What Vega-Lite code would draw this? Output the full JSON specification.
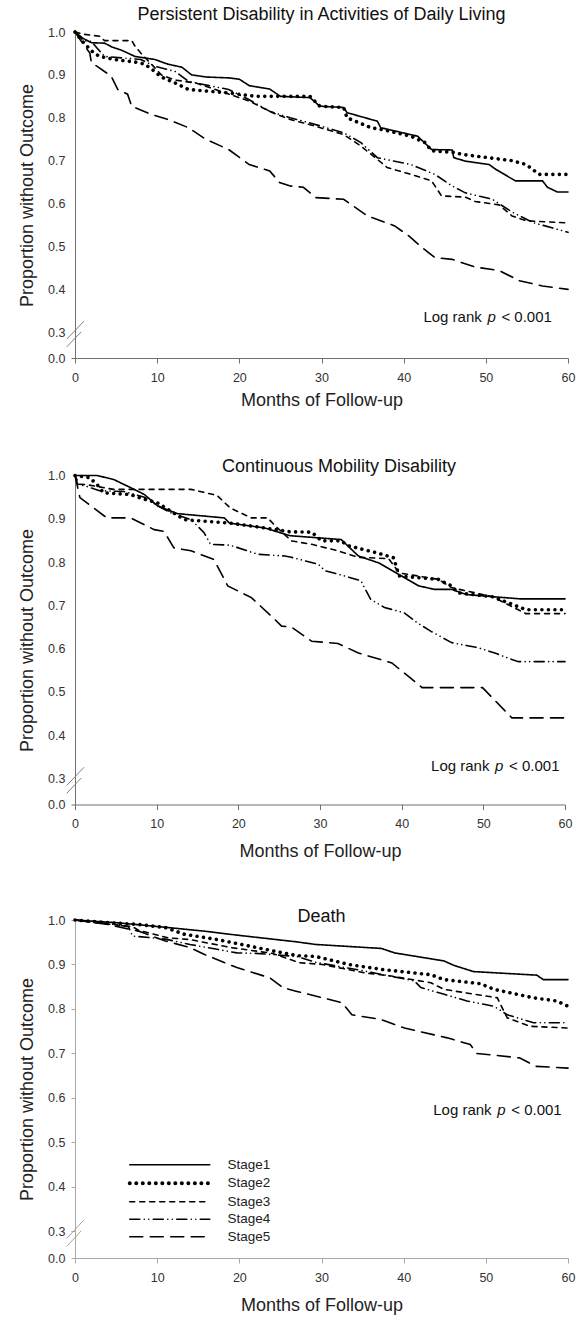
{
"$schema": "https://vega.github.io/schema/vega-lite/v6.json",
"padding": {"left": 18, "top": 5, "right": 0, "bottom": 0},
"background": "white",
"spacing": 47.5,
"config": {
 "view": {"stroke": null},
 "font": "Liberation Sans",
 "axis": {"labelFont": "Liberation Sans", "titleFont": "Liberation Sans", "labelFontSize": 12.5, "titleFontSize": 18, "titleFontWeight": "normal", "labelColor": "#333", "titleColor": "#222", "domainColor": "#808080", "tickColor": "#808080", "grid": false, "labelFlush": false, "labelOverlap": false}
},
"resolve": {"scale": {"x": "independent", "y": "independent", "strokeDash": "independent"}, "legend": {"strokeDash": "independent"}},
"datasets": {"km": [
{"p":1,"s":"Stage1","m":0,"v":1},{"p":1,"s":"Stage1","m":1,"v":0.985},{"p":1,"s":"Stage1","m":2,"v":0.975},{"p":1,"s":"Stage1","m":3.6,"v":0.974},{"p":1,"s":"Stage1","m":4.5,"v":0.965},{"p":1,"s":"Stage1","m":5.6,"v":0.958},{"p":1,"s":"Stage1","m":7.3,"v":0.943},{"p":1,"s":"Stage1","m":9.7,"v":0.936},{"p":1,"s":"Stage1","m":11.3,"v":0.925},{"p":1,"s":"Stage1","m":13,"v":0.918},{"p":1,"s":"Stage1","m":14.2,"v":0.9},{"p":1,"s":"Stage1","m":16,"v":0.895},{"p":1,"s":"Stage1","m":18.7,"v":0.893},{"p":1,"s":"Stage1","m":20,"v":0.89},{"p":1,"s":"Stage1","m":21.2,"v":0.875},{"p":1,"s":"Stage1","m":23.7,"v":0.867},{"p":1,"s":"Stage1","m":25,"v":0.85},{"p":1,"s":"Stage1","m":28.6,"v":0.847},{"p":1,"s":"Stage1","m":29.8,"v":0.827},{"p":1,"s":"Stage1","m":32.7,"v":0.824},{"p":1,"s":"Stage1","m":33.1,"v":0.812},{"p":1,"s":"Stage1","m":36.8,"v":0.792},{"p":1,"s":"Stage1","m":37.2,"v":0.777},{"p":1,"s":"Stage1","m":41.7,"v":0.757},{"p":1,"s":"Stage1","m":43.4,"v":0.726},{"p":1,"s":"Stage1","m":45.9,"v":0.725},{"p":1,"s":"Stage1","m":46.1,"v":0.707},{"p":1,"s":"Stage1","m":47.5,"v":0.699},{"p":1,"s":"Stage1","m":50.4,"v":0.691},{"p":1,"s":"Stage1","m":51.2,"v":0.68},{"p":1,"s":"Stage1","m":53.6,"v":0.653},{"p":1,"s":"Stage1","m":56.9,"v":0.653},{"p":1,"s":"Stage1","m":57.5,"v":0.638},{"p":1,"s":"Stage1","m":58.7,"v":0.627},{"p":1,"s":"Stage1","m":60,"v":0.627},
{"p":1,"s":"Stage2","m":0,"v":1},{"p":1,"s":"Stage2","m":1.1,"v":0.974},{"p":1,"s":"Stage2","m":2.3,"v":0.951},{"p":1,"s":"Stage2","m":3,"v":0.943},{"p":1,"s":"Stage2","m":4.8,"v":0.936},{"p":1,"s":"Stage2","m":7.3,"v":0.93},{"p":1,"s":"Stage2","m":8.5,"v":0.925},{"p":1,"s":"Stage2","m":9.7,"v":0.908},{"p":1,"s":"Stage2","m":10.5,"v":0.895},{"p":1,"s":"Stage2","m":12.2,"v":0.881},{"p":1,"s":"Stage2","m":13.8,"v":0.866},{"p":1,"s":"Stage2","m":18.7,"v":0.858},{"p":1,"s":"Stage2","m":22,"v":0.85},{"p":1,"s":"Stage2","m":28.6,"v":0.85},{"p":1,"s":"Stage2","m":29.8,"v":0.827},{"p":1,"s":"Stage2","m":32.7,"v":0.824},{"p":1,"s":"Stage2","m":33.1,"v":0.8},{"p":1,"s":"Stage2","m":36,"v":0.777},{"p":1,"s":"Stage2","m":38,"v":0.77},{"p":1,"s":"Stage2","m":40.9,"v":0.757},{"p":1,"s":"Stage2","m":42.6,"v":0.742},{"p":1,"s":"Stage2","m":43.4,"v":0.723},{"p":1,"s":"Stage2","m":46.3,"v":0.719},{"p":1,"s":"Stage2","m":47,"v":0.715},{"p":1,"s":"Stage2","m":53.2,"v":0.7},{"p":1,"s":"Stage2","m":54.9,"v":0.691},{"p":1,"s":"Stage2","m":56.5,"v":0.668},{"p":1,"s":"Stage2","m":60,"v":0.668},
{"p":1,"s":"Stage3","m":0,"v":1},{"p":1,"s":"Stage3","m":1,"v":0.995},{"p":1,"s":"Stage3","m":3,"v":0.99},{"p":1,"s":"Stage3","m":3.6,"v":0.98},{"p":1,"s":"Stage3","m":6.9,"v":0.98},{"p":1,"s":"Stage3","m":7.3,"v":0.967},{"p":1,"s":"Stage3","m":8,"v":0.951},{"p":1,"s":"Stage3","m":9.3,"v":0.925},{"p":1,"s":"Stage3","m":10.5,"v":0.9},{"p":1,"s":"Stage3","m":12.2,"v":0.888},{"p":1,"s":"Stage3","m":14.7,"v":0.881},{"p":1,"s":"Stage3","m":17.1,"v":0.866},{"p":1,"s":"Stage3","m":21.2,"v":0.839},{"p":1,"s":"Stage3","m":23.7,"v":0.815},{"p":1,"s":"Stage3","m":24.5,"v":0.808},{"p":1,"s":"Stage3","m":26.2,"v":0.796},{"p":1,"s":"Stage3","m":28.6,"v":0.784},{"p":1,"s":"Stage3","m":32.7,"v":0.761},{"p":1,"s":"Stage3","m":34.8,"v":0.734},{"p":1,"s":"Stage3","m":36.8,"v":0.703},{"p":1,"s":"Stage3","m":38,"v":0.684},{"p":1,"s":"Stage3","m":40.9,"v":0.668},{"p":1,"s":"Stage3","m":43.4,"v":0.653},{"p":1,"s":"Stage3","m":44.6,"v":0.618},{"p":1,"s":"Stage3","m":47.5,"v":0.615},{"p":1,"s":"Stage3","m":48.7,"v":0.605},{"p":1,"s":"Stage3","m":51.6,"v":0.597},{"p":1,"s":"Stage3","m":53.2,"v":0.571},{"p":1,"s":"Stage3","m":54.9,"v":0.56},{"p":1,"s":"Stage3","m":60,"v":0.555},
{"p":1,"s":"Stage4","m":0,"v":1},{"p":1,"s":"Stage4","m":1,"v":0.98},{"p":1,"s":"Stage4","m":2,"v":0.978},{"p":1,"s":"Stage4","m":2.8,"v":0.96},{"p":1,"s":"Stage4","m":3.6,"v":0.943},{"p":1,"s":"Stage4","m":8,"v":0.936},{"p":1,"s":"Stage4","m":9.7,"v":0.92},{"p":1,"s":"Stage4","m":12.2,"v":0.908},{"p":1,"s":"Stage4","m":13.8,"v":0.885},{"p":1,"s":"Stage4","m":16.3,"v":0.875},{"p":1,"s":"Stage4","m":18.7,"v":0.866},{"p":1,"s":"Stage4","m":21.2,"v":0.842},{"p":1,"s":"Stage4","m":23.7,"v":0.815},{"p":1,"s":"Stage4","m":26.2,"v":0.8},{"p":1,"s":"Stage4","m":28.6,"v":0.788},{"p":1,"s":"Stage4","m":32.7,"v":0.765},{"p":1,"s":"Stage4","m":34.8,"v":0.742},{"p":1,"s":"Stage4","m":36.8,"v":0.707},{"p":1,"s":"Stage4","m":40.9,"v":0.691},{"p":1,"s":"Stage4","m":43.8,"v":0.668},{"p":1,"s":"Stage4","m":45.9,"v":0.641},{"p":1,"s":"Stage4","m":47.5,"v":0.625},{"p":1,"s":"Stage4","m":50.8,"v":0.61},{"p":1,"s":"Stage4","m":53.2,"v":0.58},{"p":1,"s":"Stage4","m":55.7,"v":0.556},{"p":1,"s":"Stage4","m":60,"v":0.533},
{"p":1,"s":"Stage5","m":0,"v":1},{"p":1,"s":"Stage5","m":0.7,"v":0.98},{"p":1,"s":"Stage5","m":1.8,"v":0.951},{"p":1,"s":"Stage5","m":2,"v":0.928},{"p":1,"s":"Stage5","m":2.7,"v":0.92},{"p":1,"s":"Stage5","m":4.4,"v":0.897},{"p":1,"s":"Stage5","m":5.2,"v":0.866},{"p":1,"s":"Stage5","m":6.4,"v":0.855},{"p":1,"s":"Stage5","m":6.9,"v":0.827},{"p":1,"s":"Stage5","m":9.3,"v":0.808},{"p":1,"s":"Stage5","m":11.3,"v":0.796},{"p":1,"s":"Stage5","m":13.8,"v":0.777},{"p":1,"s":"Stage5","m":15.9,"v":0.75},{"p":1,"s":"Stage5","m":18.7,"v":0.726},{"p":1,"s":"Stage5","m":21.2,"v":0.691},{"p":1,"s":"Stage5","m":23.7,"v":0.676},{"p":1,"s":"Stage5","m":24.9,"v":0.649},{"p":1,"s":"Stage5","m":26.2,"v":0.641},{"p":1,"s":"Stage5","m":27.8,"v":0.638},{"p":1,"s":"Stage5","m":29.3,"v":0.614},{"p":1,"s":"Stage5","m":32.7,"v":0.61},{"p":1,"s":"Stage5","m":35.6,"v":0.571},{"p":1,"s":"Stage5","m":38.9,"v":0.548},{"p":1,"s":"Stage5","m":40.6,"v":0.525},{"p":1,"s":"Stage5","m":42.2,"v":0.498},{"p":1,"s":"Stage5","m":43.8,"v":0.474},{"p":1,"s":"Stage5","m":45.9,"v":0.47},{"p":1,"s":"Stage5","m":48.7,"v":0.452},{"p":1,"s":"Stage5","m":51.6,"v":0.444},{"p":1,"s":"Stage5","m":54.1,"v":0.42},{"p":1,"s":"Stage5","m":56.9,"v":0.408},{"p":1,"s":"Stage5","m":60,"v":0.4},
{"p":2,"s":"Stage1","m":0,"v":1},{"p":2,"s":"Stage1","m":2.7,"v":1},{"p":2,"s":"Stage1","m":4.7,"v":0.991},{"p":2,"s":"Stage1","m":6.8,"v":0.972},{"p":2,"s":"Stage1","m":8.5,"v":0.956},{"p":2,"s":"Stage1","m":10.1,"v":0.93},{"p":2,"s":"Stage1","m":12.5,"v":0.912},{"p":2,"s":"Stage1","m":18.3,"v":0.902},{"p":2,"s":"Stage1","m":18.9,"v":0.89},{"p":2,"s":"Stage1","m":23.2,"v":0.879},{"p":2,"s":"Stage1","m":26.3,"v":0.861},{"p":2,"s":"Stage1","m":32.6,"v":0.852},{"p":2,"s":"Stage1","m":34.7,"v":0.814},{"p":2,"s":"Stage1","m":37.2,"v":0.798},{"p":2,"s":"Stage1","m":39.7,"v":0.771},{"p":2,"s":"Stage1","m":42.1,"v":0.745},{"p":2,"s":"Stage1","m":44,"v":0.737},{"p":2,"s":"Stage1","m":46.1,"v":0.737},{"p":2,"s":"Stage1","m":47.9,"v":0.725},{"p":2,"s":"Stage1","m":54.5,"v":0.715},{"p":2,"s":"Stage1","m":60,"v":0.715},
{"p":2,"s":"Stage2","m":0,"v":1},{"p":2,"s":"Stage2","m":1.8,"v":0.995},{"p":2,"s":"Stage2","m":2.7,"v":0.979},{"p":2,"s":"Stage2","m":3.5,"v":0.96},{"p":2,"s":"Stage2","m":6.8,"v":0.956},{"p":2,"s":"Stage2","m":8,"v":0.948},{"p":2,"s":"Stage2","m":10.1,"v":0.937},{"p":2,"s":"Stage2","m":11.7,"v":0.918},{"p":2,"s":"Stage2","m":13.4,"v":0.898},{"p":2,"s":"Stage2","m":19,"v":0.89},{"p":2,"s":"Stage2","m":23.2,"v":0.879},{"p":2,"s":"Stage2","m":26.3,"v":0.87},{"p":2,"s":"Stage2","m":29,"v":0.869},{"p":2,"s":"Stage2","m":30.2,"v":0.849},{"p":2,"s":"Stage2","m":32.6,"v":0.849},{"p":2,"s":"Stage2","m":33.4,"v":0.838},{"p":2,"s":"Stage2","m":37.2,"v":0.82},{"p":2,"s":"Stage2","m":39,"v":0.81},{"p":2,"s":"Stage2","m":39.7,"v":0.768},{"p":2,"s":"Stage2","m":44.5,"v":0.76},{"p":2,"s":"Stage2","m":46.1,"v":0.745},{"p":2,"s":"Stage2","m":46.9,"v":0.729},{"p":2,"s":"Stage2","m":51.1,"v":0.72},{"p":2,"s":"Stage2","m":53.6,"v":0.702},{"p":2,"s":"Stage2","m":55.2,"v":0.69},{"p":2,"s":"Stage2","m":60,"v":0.69},
{"p":2,"s":"Stage3","m":0,"v":1},{"p":2,"s":"Stage3","m":0.5,"v":0.98},{"p":2,"s":"Stage3","m":1.4,"v":0.979},{"p":2,"s":"Stage3","m":4.7,"v":0.968},{"p":2,"s":"Stage3","m":14.2,"v":0.968},{"p":2,"s":"Stage3","m":17.4,"v":0.954},{"p":2,"s":"Stage3","m":19,"v":0.925},{"p":2,"s":"Stage3","m":21.6,"v":0.902},{"p":2,"s":"Stage3","m":23.6,"v":0.902},{"p":2,"s":"Stage3","m":24.5,"v":0.884},{"p":2,"s":"Stage3","m":26.5,"v":0.849},{"p":2,"s":"Stage3","m":29,"v":0.841},{"p":2,"s":"Stage3","m":32.2,"v":0.826},{"p":2,"s":"Stage3","m":34.7,"v":0.811},{"p":2,"s":"Stage3","m":38.4,"v":0.808},{"p":2,"s":"Stage3","m":39.7,"v":0.775},{"p":2,"s":"Stage3","m":44.5,"v":0.76},{"p":2,"s":"Stage3","m":46.1,"v":0.741},{"p":2,"s":"Stage3","m":51.1,"v":0.72},{"p":2,"s":"Stage3","m":55.2,"v":0.681},{"p":2,"s":"Stage3","m":60,"v":0.681},
{"p":2,"s":"Stage4","m":0,"v":1},{"p":2,"s":"Stage4","m":0.3,"v":0.98},{"p":2,"s":"Stage4","m":1.4,"v":0.975},{"p":2,"s":"Stage4","m":3,"v":0.965},{"p":2,"s":"Stage4","m":6,"v":0.963},{"p":2,"s":"Stage4","m":8.5,"v":0.95},{"p":2,"s":"Stage4","m":10.1,"v":0.93},{"p":2,"s":"Stage4","m":11.7,"v":0.914},{"p":2,"s":"Stage4","m":14.2,"v":0.898},{"p":2,"s":"Stage4","m":15.8,"v":0.868},{"p":2,"s":"Stage4","m":16.6,"v":0.841},{"p":2,"s":"Stage4","m":19,"v":0.839},{"p":2,"s":"Stage4","m":22.4,"v":0.818},{"p":2,"s":"Stage4","m":25.7,"v":0.814},{"p":2,"s":"Stage4","m":26.5,"v":0.811},{"p":2,"s":"Stage4","m":29.8,"v":0.795},{"p":2,"s":"Stage4","m":30.6,"v":0.78},{"p":2,"s":"Stage4","m":33,"v":0.768},{"p":2,"s":"Stage4","m":35,"v":0.757},{"p":2,"s":"Stage4","m":36.2,"v":0.714},{"p":2,"s":"Stage4","m":37.9,"v":0.695},{"p":2,"s":"Stage4","m":40.3,"v":0.683},{"p":2,"s":"Stage4","m":41.9,"v":0.66},{"p":2,"s":"Stage4","m":43.6,"v":0.64},{"p":2,"s":"Stage4","m":46.1,"v":0.614},{"p":2,"s":"Stage4","m":49.4,"v":0.602},{"p":2,"s":"Stage4","m":51.4,"v":0.59},{"p":2,"s":"Stage4","m":53.5,"v":0.575},{"p":2,"s":"Stage4","m":54.3,"v":0.57},{"p":2,"s":"Stage4","m":60,"v":0.57},
{"p":2,"s":"Stage5","m":0,"v":1},{"p":2,"s":"Stage5","m":0.6,"v":0.949},{"p":2,"s":"Stage5","m":3.9,"v":0.902},{"p":2,"s":"Stage5","m":6.8,"v":0.902},{"p":2,"s":"Stage5","m":9.7,"v":0.875},{"p":2,"s":"Stage5","m":10.9,"v":0.871},{"p":2,"s":"Stage5","m":12.1,"v":0.833},{"p":2,"s":"Stage5","m":14.2,"v":0.826},{"p":2,"s":"Stage5","m":17,"v":0.806},{"p":2,"s":"Stage5","m":18.7,"v":0.745},{"p":2,"s":"Stage5","m":21.6,"v":0.718},{"p":2,"s":"Stage5","m":24.5,"v":0.667},{"p":2,"s":"Stage5","m":25.3,"v":0.652},{"p":2,"s":"Stage5","m":26.5,"v":0.65},{"p":2,"s":"Stage5","m":29,"v":0.617},{"p":2,"s":"Stage5","m":32.2,"v":0.612},{"p":2,"s":"Stage5","m":34.7,"v":0.59},{"p":2,"s":"Stage5","m":38.8,"v":0.567},{"p":2,"s":"Stage5","m":42.5,"v":0.51},{"p":2,"s":"Stage5","m":49.9,"v":0.51},{"p":2,"s":"Stage5","m":53.5,"v":0.44},{"p":2,"s":"Stage5","m":60,"v":0.44},
{"p":3,"s":"Stage1","m":0,"v":1},{"p":3,"s":"Stage1","m":5,"v":0.994},{"p":3,"s":"Stage1","m":9.7,"v":0.986},{"p":3,"s":"Stage1","m":15.7,"v":0.975},{"p":3,"s":"Stage1","m":19.7,"v":0.966},{"p":3,"s":"Stage1","m":26.9,"v":0.951},{"p":3,"s":"Stage1","m":29.3,"v":0.945},{"p":3,"s":"Stage1","m":37.3,"v":0.936},{"p":3,"s":"Stage1","m":38.9,"v":0.926},{"p":3,"s":"Stage1","m":44.9,"v":0.908},{"p":3,"s":"Stage1","m":46.1,"v":0.898},{"p":3,"s":"Stage1","m":48.5,"v":0.884},{"p":3,"s":"Stage1","m":56.2,"v":0.876},{"p":3,"s":"Stage1","m":57,"v":0.866},{"p":3,"s":"Stage1","m":60,"v":0.866},
{"p":3,"s":"Stage2","m":0,"v":1},{"p":3,"s":"Stage2","m":4,"v":0.994},{"p":3,"s":"Stage2","m":7.7,"v":0.99},{"p":3,"s":"Stage2","m":11,"v":0.983},{"p":3,"s":"Stage2","m":13.3,"v":0.968},{"p":3,"s":"Stage2","m":17.3,"v":0.956},{"p":3,"s":"Stage2","m":21.3,"v":0.941},{"p":3,"s":"Stage2","m":25.3,"v":0.926},{"p":3,"s":"Stage2","m":27,"v":0.92},{"p":3,"s":"Stage2","m":29.3,"v":0.918},{"p":3,"s":"Stage2","m":33.3,"v":0.9},{"p":3,"s":"Stage2","m":37.3,"v":0.889},{"p":3,"s":"Stage2","m":43.3,"v":0.877},{"p":3,"s":"Stage2","m":44.9,"v":0.866},{"p":3,"s":"Stage2","m":49.3,"v":0.857},{"p":3,"s":"Stage2","m":51,"v":0.844},{"p":3,"s":"Stage2","m":55.8,"v":0.825},{"p":3,"s":"Stage2","m":58.6,"v":0.818},{"p":3,"s":"Stage2","m":60,"v":0.806},
{"p":3,"s":"Stage3","m":0,"v":1},{"p":3,"s":"Stage3","m":3,"v":0.993},{"p":3,"s":"Stage3","m":7,"v":0.985},{"p":3,"s":"Stage3","m":7.7,"v":0.977},{"p":3,"s":"Stage3","m":11.3,"v":0.96},{"p":3,"s":"Stage3","m":14,"v":0.956},{"p":3,"s":"Stage3","m":19,"v":0.938},{"p":3,"s":"Stage3","m":24,"v":0.925},{"p":3,"s":"Stage3","m":27.3,"v":0.904},{"p":3,"s":"Stage3","m":30.1,"v":0.9},{"p":3,"s":"Stage3","m":35.3,"v":0.881},{"p":3,"s":"Stage3","m":38.5,"v":0.874},{"p":3,"s":"Stage3","m":43.3,"v":0.859},{"p":3,"s":"Stage3","m":44.9,"v":0.844},{"p":3,"s":"Stage3","m":51.4,"v":0.825},{"p":3,"s":"Stage3","m":52.6,"v":0.78},{"p":3,"s":"Stage3","m":55.4,"v":0.761},{"p":3,"s":"Stage3","m":60,"v":0.757},
{"p":3,"s":"Stage4","m":0,"v":1},{"p":3,"s":"Stage4","m":4,"v":0.992},{"p":3,"s":"Stage4","m":6.5,"v":0.985},{"p":3,"s":"Stage4","m":7,"v":0.964},{"p":3,"s":"Stage4","m":11,"v":0.957},{"p":3,"s":"Stage4","m":14,"v":0.945},{"p":3,"s":"Stage4","m":19.7,"v":0.926},{"p":3,"s":"Stage4","m":22,"v":0.925},{"p":3,"s":"Stage4","m":27,"v":0.918},{"p":3,"s":"Stage4","m":29.3,"v":0.905},{"p":3,"s":"Stage4","m":35.3,"v":0.885},{"p":3,"s":"Stage4","m":41.3,"v":0.863},{"p":3,"s":"Stage4","m":42.1,"v":0.848},{"p":3,"s":"Stage4","m":47.7,"v":0.818},{"p":3,"s":"Stage4","m":51,"v":0.806},{"p":3,"s":"Stage4","m":52.6,"v":0.787},{"p":3,"s":"Stage4","m":55.8,"v":0.769},{"p":3,"s":"Stage4","m":60,"v":0.769},
{"p":3,"s":"Stage5","m":0,"v":1},{"p":3,"s":"Stage5","m":4,"v":0.99},{"p":3,"s":"Stage5","m":7.7,"v":0.975},{"p":3,"s":"Stage5","m":11,"v":0.953},{"p":3,"s":"Stage5","m":14,"v":0.938},{"p":3,"s":"Stage5","m":15.7,"v":0.923},{"p":3,"s":"Stage5","m":19.7,"v":0.893},{"p":3,"s":"Stage5","m":23.7,"v":0.87},{"p":3,"s":"Stage5","m":25.3,"v":0.848},{"p":3,"s":"Stage5","m":26.9,"v":0.84},{"p":3,"s":"Stage5","m":32.5,"v":0.814},{"p":3,"s":"Stage5","m":33.7,"v":0.787},{"p":3,"s":"Stage5","m":37.3,"v":0.776},{"p":3,"s":"Stage5","m":40.1,"v":0.757},{"p":3,"s":"Stage5","m":45.3,"v":0.735},{"p":3,"s":"Stage5","m":48.1,"v":0.72},{"p":3,"s":"Stage5","m":48.9,"v":0.7},{"p":3,"s":"Stage5","m":54.1,"v":0.69},{"p":3,"s":"Stage5","m":56.1,"v":0.671},{"p":3,"s":"Stage5","m":60,"v":0.667}
]},
"vconcat": [
{
 "width": 493, "height": 326,
 "title": {"text": "Persistent Disability in Activities of Daily Living", "fontSize": 18, "fontWeight": "normal", "font": "Liberation Sans", "baseline": "alphabetic", "offset": -12.7, "color": "#111"},
 "layer": [
  {"data": {"name": "km"}, "transform": [{"filter": "datum.p === 1"}],
   "mark": {"type": "line", "strokeCap": "round", "color": "black"},
   "encoding": {
    "x": {"field": "m", "type": "quantitative", "scale": {"domain": [0, 60], "nice": false, "zero": false}, "axis": {"values": [0,10,20,30,40,50,60], "title": "Months of Follow-up", "tickSize": 5, "labelPadding": 8, "titlePadding": 8, "format": "d", "domainColor": "#707070", "tickColor": "#707070"}},
    "y": {"field": "v", "type": "quantitative", "scale": {"domain": [0.24, 1], "nice": false, "zero": false}, "axis": {"values": [0.24,0.3,0.4,0.5,0.6,0.7,0.8,0.9,1.0], "labelExpr": "datum.value < 0.25 ? '0.0' : format(datum.value, '.1f')", "title": "Proportion without Outcome", "tickSize": 4, "labelPadding": 6, "titlePadding": 11, "tickOpacity": {"condition": {"test": "datum.value < 0.25", "value": 1}, "value": 0}, "domainColor": "#707070", "tickColor": "#707070"}},
    "strokeDash": {"field": "s", "type": "nominal", "scale": {"domain": ["Stage1","Stage2","Stage3","Stage4","Stage5"], "range": [[1,0],[0.01,6.5],[5,5],[10,4.5,0.01,4.5,0.01,4.5],[13,7.5]]}, "legend": null},
    "strokeWidth": {"condition": {"test": "datum.s === 'Stage2'", "value": 3.6}, "value": 1.6}
   }},
  {"data": {"values": [{}]}, "mark": {"type": "rule", "color": "#808080", "strokeWidth": 1}, "encoding": {"x": {"datum": -1}, "x2": {"datum": 1.1}, "y": {"datum": 0.284}, "y2": {"datum": 0.326}}},
  {"data": {"values": [{}]}, "mark": {"type": "rule", "color": "#808080", "strokeWidth": 1}, "encoding": {"x": {"datum": -1}, "x2": {"datum": 0.75}, "y": {"datum": 0.266}, "y2": {"datum": 0.301}}},
  {"data": {"values": [{}]}, "mark": {"type": "text", "align": "left", "baseline": "middle", "fontSize": 15, "color": "#111"}, "encoding": {"x": {"datum": 42.4}, "y": {"datum": 0.336}, "text": {"value": "Log rank"}}},
  {"data": {"values": [{}]}, "mark": {"type": "text", "align": "left", "baseline": "middle", "fontSize": 15, "fontStyle": "italic", "dx": 64, "color": "#111"}, "encoding": {"x": {"datum": 42.4}, "y": {"datum": 0.336}, "text": {"value": "p"}}},
  {"data": {"values": [{}]}, "mark": {"type": "text", "align": "left", "baseline": "middle", "fontSize": 15, "dx": 78, "color": "#111"}, "encoding": {"x": {"datum": 42.4}, "y": {"datum": 0.336}, "text": {"value": "< 0.001"}}}
 ]
},
{
 "width": 490, "height": 329,
 "title": {"text": "Continuous Mobility Disability", "fontSize": 18, "fontWeight": "normal", "font": "Liberation Sans", "baseline": "alphabetic", "offset": -21.8, "dx": 19, "color": "#111"},
 "layer": [
  {"data": {"name": "km"}, "transform": [{"filter": "datum.p === 2"}],
   "mark": {"type": "line", "strokeCap": "round", "color": "black"},
   "encoding": {
    "x": {"field": "m", "type": "quantitative", "scale": {"domain": [0, 60], "nice": false, "zero": false}, "axis": {"values": [0,10,20,30,40,50,60], "title": "Months of Follow-up", "tickSize": 5, "labelPadding": 8, "titlePadding": 12, "format": "d", "domainColor": "#707070", "tickColor": "#707070"}},
    "y": {"field": "v", "type": "quantitative", "scale": {"domain": [0.24, 1], "nice": false, "zero": false}, "axis": {"values": [0.24,0.3,0.4,0.5,0.6,0.7,0.8,0.9,1.0], "labelExpr": "datum.value < 0.25 ? '0.0' : format(datum.value, '.1f')", "title": "Proportion without Outcome", "tickSize": 4, "labelPadding": 6, "titlePadding": 11, "tickOpacity": {"condition": {"test": "datum.value < 0.25", "value": 1}, "value": 0}, "domainColor": "#707070", "tickColor": "#707070"}},
    "strokeDash": {"field": "s", "type": "nominal", "scale": {"domain": ["Stage1","Stage2","Stage3","Stage4","Stage5"], "range": [[1,0],[0.01,6.5],[5,5],[10,4.5,0.01,4.5,0.01,4.5],[13,7.5]]}, "legend": null},
    "strokeWidth": {"condition": {"test": "datum.s === 'Stage2'", "value": 3.6}, "value": 1.6}
   }},
  {"data": {"values": [{}]}, "mark": {"type": "rule", "color": "#808080", "strokeWidth": 1}, "encoding": {"x": {"datum": -1}, "x2": {"datum": 1.1}, "y": {"datum": 0.284}, "y2": {"datum": 0.326}}},
  {"data": {"values": [{}]}, "mark": {"type": "rule", "color": "#808080", "strokeWidth": 1}, "encoding": {"x": {"datum": -1}, "x2": {"datum": 0.75}, "y": {"datum": 0.266}, "y2": {"datum": 0.301}}},
  {"data": {"values": [{}]}, "mark": {"type": "text", "align": "left", "baseline": "middle", "fontSize": 15, "color": "#111"}, "encoding": {"x": {"datum": 43.6}, "y": {"datum": 0.329}, "text": {"value": "Log rank"}}},
  {"data": {"values": [{}]}, "mark": {"type": "text", "align": "left", "baseline": "middle", "fontSize": 15, "fontStyle": "italic", "dx": 64, "color": "#111"}, "encoding": {"x": {"datum": 43.6}, "y": {"datum": 0.329}, "text": {"value": "p"}}},
  {"data": {"values": [{}]}, "mark": {"type": "text", "align": "left", "baseline": "middle", "fontSize": 15, "dx": 78, "color": "#111"}, "encoding": {"x": {"datum": 43.6}, "y": {"datum": 0.329}, "text": {"value": "< 0.001"}}}
 ]
},
{
 "width": 493, "height": 338,
 "title": {"text": "Death", "fontSize": 18, "fontWeight": "normal", "font": "Liberation Sans", "baseline": "alphabetic", "offset": -27.2, "color": "#111"},
 "layer": [
  {"data": {"name": "km"}, "transform": [{"filter": "datum.p === 3"}],
   "mark": {"type": "line", "strokeCap": "round", "color": "black"},
   "encoding": {
    "x": {"field": "m", "type": "quantitative", "scale": {"domain": [0, 60], "nice": false, "zero": false}, "axis": {"values": [0,10,20,30,40,50,60], "title": "Months of Follow-up", "tickSize": 5, "labelPadding": 8, "titlePadding": 13, "format": "d", "domainColor": "#a8a8a8", "tickColor": "#a8a8a8"}},
    "y": {"field": "v", "type": "quantitative", "scale": {"domain": [0.24, 1], "nice": false, "zero": false}, "axis": {"values": [0.24,0.3,0.4,0.5,0.6,0.7,0.8,0.9,1.0], "labelExpr": "datum.value < 0.25 ? '0.0' : format(datum.value, '.1f')", "title": "Proportion without Outcome", "tickSize": 4, "labelPadding": 6, "titlePadding": 11, "domainColor": "#a8a8a8", "tickColor": "#a8a8a8"}},
    "strokeDash": {"field": "s", "type": "nominal", "scale": {"domain": ["Stage1","Stage2","Stage3","Stage4","Stage5"], "range": [[1,0],[0.01,6.5],[5,5],[10,4.5,0.01,4.5,0.01,4.5],[13,7.5]]},
     "legend": {"orient": "none", "legendX": 88, "legendY": 238, "title": null, "symbolType": "M-8,0H8", "symbolSize": 100, "symbolStrokeColor": "black", "symbolStrokeWidth": 1.6, "symbolOffset": 0, "labelFontSize": 13.5, "labelFont": "Liberation Sans", "labelColor": "#222", "labelOffset": 51, "rowPadding": 2.5, "padding": 0,
      "encode": {"symbols": {"update": {"strokeCap": {"value": "round"}, "strokeWidth": {"signal": "datum.value === 'Stage2' ? 4 : 1.6"}}}}}},
    "strokeWidth": {"condition": {"test": "datum.s === 'Stage2'", "value": 3.6}, "value": 1.6}
   }},
  {"data": {"values": [{}]}, "mark": {"type": "rule", "color": "#a0a0a0", "strokeWidth": 1}, "encoding": {"x": {"datum": -1}, "x2": {"datum": 1.1}, "y": {"datum": 0.284}, "y2": {"datum": 0.326}}},
  {"data": {"values": [{}]}, "mark": {"type": "rule", "color": "#a0a0a0", "strokeWidth": 1}, "encoding": {"x": {"datum": -1}, "x2": {"datum": 0.75}, "y": {"datum": 0.266}, "y2": {"datum": 0.301}}},
  {"data": {"values": [{}]}, "mark": {"type": "text", "align": "left", "baseline": "middle", "fontSize": 15, "color": "#111"}, "encoding": {"x": {"datum": 43.6}, "y": {"datum": 0.573}, "text": {"value": "Log rank"}}},
  {"data": {"values": [{}]}, "mark": {"type": "text", "align": "left", "baseline": "middle", "fontSize": 15, "fontStyle": "italic", "dx": 64, "color": "#111"}, "encoding": {"x": {"datum": 43.6}, "y": {"datum": 0.573}, "text": {"value": "p"}}},
  {"data": {"values": [{}]}, "mark": {"type": "text", "align": "left", "baseline": "middle", "fontSize": 15, "dx": 78, "color": "#111"}, "encoding": {"x": {"datum": 43.6}, "y": {"datum": 0.573}, "text": {"value": "< 0.001"}}}
 ]
}
]
}
